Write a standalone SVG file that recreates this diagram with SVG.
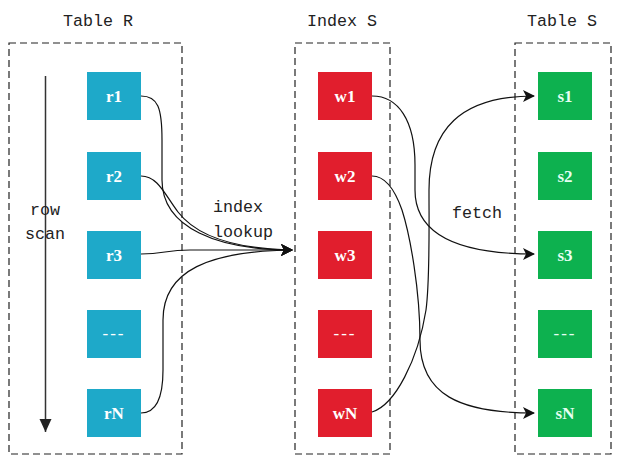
<svg xmlns="http://www.w3.org/2000/svg" width="623" height="470" viewBox="0 0 623 470">
<style>
.title{font-family:"Liberation Mono",monospace;font-size:16.7px;fill:#222}
.lbl{font-family:"Liberation Serif",serif;font-size:17px;font-weight:bold;fill:#fff;text-anchor:middle}
.frame{fill:none;stroke:#222;stroke-width:1.2;stroke-dasharray:7,4}
.r{fill:#1ea9c9}
.w{fill:#e11e2d}
.s{fill:#0db14f}
.sl{fill:#e6fff3}
.edge{fill:none;stroke:#111;stroke-width:1.2}
</style>
<defs>
<marker id="ah" markerUnits="userSpaceOnUse" markerWidth="12" markerHeight="12" viewBox="0 0 12 12" refX="11" refY="6" orient="auto">
<path d="M0,0 L12,6 L0,12 L3,6 z" fill="#111"/>
</marker>
<marker id="scanhead" markerUnits="userSpaceOnUse" markerWidth="14" markerHeight="14" viewBox="0 0 14 14" refX="7" refY="13" orient="0">
<path d="M1,0 L13,0 L7,13 z" fill="#222"/>
</marker>
</defs>
<rect width="623" height="470" fill="#fff"/>

<g id="tableR">
<rect class="frame" x="9" y="43" width="173" height="411"/>
<text class="title" x="98" y="26" text-anchor="middle">Table R</text>
</g>
<g id="indexS">
<rect class="frame" x="295" y="43" width="95" height="411"/>
<text class="title" x="342" y="26" text-anchor="middle">Index S</text>
</g>
<g id="tableS">
<rect class="frame" x="515" y="43" width="96" height="411"/>
<text class="title" x="562" y="26" text-anchor="middle">Table S</text>
</g>

<g id="rowscan">
<line x1="45.5" y1="76" x2="45.5" y2="432" stroke="#333" stroke-width="1.5" marker-end="url(#scanhead)"/>
<text class="title" x="45" y="215" text-anchor="middle">row</text>
<text class="title" x="45" y="239" text-anchor="middle">scan</text>
</g>

<g id="r1"><rect class="r" x="87" y="72" width="54" height="48"/><text class="lbl" x="114" y="102">r1</text></g>
<g id="r2"><rect class="r" x="87" y="152" width="54" height="48"/><text class="lbl" x="114" y="182">r2</text></g>
<g id="r3"><rect class="r" x="87" y="231" width="54" height="48"/><text class="lbl" x="114" y="261">r3</text></g>
<g id="rdots"><rect class="r" x="87" y="310" width="54" height="48"/><text class="lbl" x="114" y="339" style="letter-spacing:2px;font-weight:normal">---</text></g>
<g id="rN"><rect class="r" x="87" y="389" width="54" height="48"/><text class="lbl" x="114" y="419">rN</text></g>

<g id="w1"><rect class="w" x="318" y="72" width="54" height="48"/><text class="lbl" x="345" y="102">w1</text></g>
<g id="w2"><rect class="w" x="318" y="152" width="54" height="48"/><text class="lbl" x="345" y="182">w2</text></g>
<g id="w3"><rect class="w" x="318" y="231" width="54" height="48"/><text class="lbl" x="345" y="261">w3</text></g>
<g id="wdots"><rect class="w" x="318" y="310" width="54" height="48"/><text class="lbl" x="345" y="339" style="letter-spacing:2px;font-weight:normal">---</text></g>
<g id="wN"><rect class="w" x="318" y="389" width="54" height="48"/><text class="lbl" x="345" y="419">wN</text></g>

<g id="s1"><rect class="s" x="538" y="72" width="54" height="48"/><text class="lbl sl" x="565" y="102">s1</text></g>
<g id="s2"><rect class="s" x="538" y="152" width="54" height="48"/><text class="lbl sl" x="565" y="182">s2</text></g>
<g id="s3"><rect class="s" x="538" y="231" width="54" height="48"/><text class="lbl sl" x="565" y="261">s3</text></g>
<g id="sdots"><rect class="s" x="538" y="310" width="54" height="48"/><text class="lbl sl" x="565" y="339" style="letter-spacing:2px;font-weight:normal">---</text></g>
<g id="sN"><rect class="s" x="538" y="389" width="54" height="48"/><text class="lbl sl" x="565" y="419">sN</text></g>

<g id="connectors">
<path class="edge" d="M141,96 C158,96 162,108 162,140 L162,180 C162,228 218,250 292,250" marker-end="url(#ah)"/>
<path class="edge" d="M141,176 C158,176 165,195 178,212 C198,238 240,249 292,250" marker-end="url(#ah)"/>
<path class="edge" d="M141,254 C165,254 165,250 190,250 L292,250" marker-end="url(#ah)"/>
<path class="edge" d="M141,413 C158,413 163,395 163,370 L163,320 C163,270 210,251 292,250" marker-end="url(#ah)"/>
<path class="edge" d="M372,96 C398,96 415,120 415,165 L415,190 C415,235 460,254 534,254" marker-end="url(#ah)"/>
<path class="edge" d="M372,176 C385,176 395,190 402,210 C410,235 420,290 420,340 C420,395 460,413 534,413" marker-end="url(#ah)"/>
<path class="edge" d="M372,412 C395,405 418,360 426,310 C430,280 429,230 429,190 C429,130 460,96 534,96" marker-end="url(#ah)"/>
<text class="title" x="213" y="212">index</text>
<text class="title" x="213" y="237">lookup</text>
<text class="title" x="452" y="218">fetch</text>
</g>
</svg>
